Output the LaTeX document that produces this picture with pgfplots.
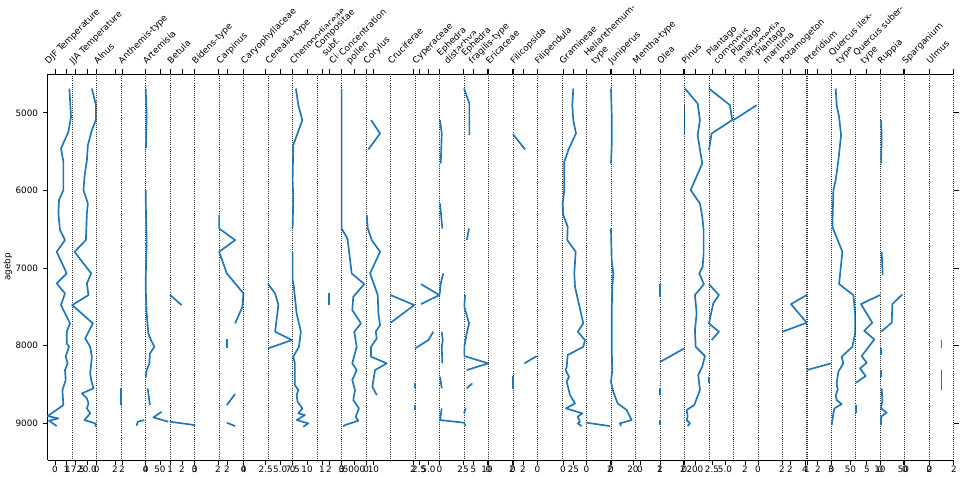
\documentclass[border=0pt]{standalone}
\usepackage{pgfplots}
\pgfplotsset{compat=1.18}
\usepackage{fontspec}
\setmainfont{DejaVu Sans}
\definecolor{mplblue}{RGB}{31,119,180}
\newcommand{\fs}{\fontsize{6.6}{7.7}\selectfont}
\pgfplotsset{
  panel/.style={
    at={(35.775pt+#1*18.3675pt,12pt)}, anchor=south west,
    scale only axis, width=18.3675pt, height=289.5pt,
    xmin=0, xmax=24.49, ymin=4500, ymax=9473, y dir=reverse,
    clip=false, separate axis lines,
    x axis line style={black, line width=0.6pt},
    y axis line style={black!80, line width=0.6pt, densely dotted},
    tick align=outside, major tick length=3.5pt,
    xtick pos=both, xticklabel pos=bottom,
    ytick=\empty,
    tick style={black, line width=0.6pt},
    ticklabel style={font=\fs, inner sep=0.6pt},
    every axis plot post/.append style={color=mplblue, line width=1.25pt, line join=round, mark=none, solid},
  },
}
\tikzset{
  ttl/.style={anchor=south west, outer sep=0pt, inner sep=1.5pt, fill=white,
    align=left, font=\fs, rotate=45},
}
\newcommand{\ttl}[2][0pt]{\node[ttl] at ([xshift=2.4pt+#1, yshift=3.75pt]rel axis cs:0,1) {#2\strut};}
\begin{document}
\begin{tikzpicture}
\path[use as bounding box] (0,0) rectangle (720pt,357pt);
% 0 DJF
\begin{axis}[panel=0, axis y line*=left, y axis line style={solid, black},
  ytick={5000,6000,7000,8000,9000}, yticklabels={5000,6000,7000,8000,9000},
  yticklabel style={xshift=-3pt},
  xtick={7.3,18.8}, xticklabels={0,1}]
\addplot coordinates {(21.7,4687)(23.3,5052)(20.7,5245)(13.3,5459)(15.7,5631)(15.7,5996)(11.3,6125)(10.7,6296)(12.3,6511)(17.3,6640)(9.0,6790)(19.0,7069)(9.0,7198)(17.3,7327)(13.3,7477)(22.3,7713)(19.0,7820)(19.0,7971)(21.3,8014)(18.0,8142)(20.0,8228)(17.3,8314)(18.0,8443)(14.7,8572)(15.7,8765)(0,8907)(10.7,8937)(1.3,8967)(9.0,9035)};
\ttl{DJF Temperature}
\end{axis}
% 1 JJA
\begin{axis}[panel=1, xtick={2.8,14.8}, xticklabels={17.5,20.0}]
\addplot coordinates {(19.7,4687)(23.7,4901)(23.7,5094)(19.7,5223)(15.7,5416)(14.7,5610)(12.3,5824)(11.3,5996)(15.7,6168)(14.7,6296)(13.7,6640)(2.3,6790)(19.0,7069)(14.7,7198)(16.3,7348)(0,7477)(20.7,7713)(13.0,7906)(18.0,8014)(19.7,8142)(18.0,8357)(19.0,8443)(21.3,8550)(9.7,8615)(14.7,8679)(16.3,8743)(14.7,8808)(18.0,8872)(12.3,8958)(23.0,9001)(23.7,9044)};
\ttl{JJA Temperature}
\end{axis}
% 2 Alnus
\begin{axis}[panel=2, xtick={0,18.3}, xticklabels={0,2}]
\ttl{Alnus}
\end{axis}
% 3 Anthemis
\begin{axis}[panel=3, xtick={0.8,24.49}, xticklabels={2,4}]
\addplot coordinates {(0,8550)(0,8765)};
\addplot coordinates {(15.5,9031)(16.5,8980)(23.1,8958)};
\ttl{Anthemis-type}
\end{axis}
% 4 Artemisia
\begin{axis}[panel=4, xtick={0,14.3}, xticklabels={0,50}]
\addplot coordinates {(0,4687)(1,5009)(0.3,5459)};
\addplot coordinates {(0,5996)(0.3,6296)(1,6640)(0.3,6983)(0,7241)(1,7584)(2.7,7842)(5.3,7928)(8.7,8014)(4.3,8100)(3.7,8228)(1,8314)(0.3,8400)};
\addplot coordinates {(2,8550)(4.3,8765)};
\addplot coordinates {(16,8851)(7.7,8924)(22.7,8980)};
\ttl{Artemisia}
\end{axis}
% 5 Betula
\begin{axis}[panel=5, xtick={0,11.8,24.4}, xticklabels={1,2,3}]
\addplot coordinates {(0,7348)(11.5,7477)};
\addplot coordinates {(0,8980)(24.8,9023)};
\ttl{Betula}
\end{axis}
% 6 Bidens
\begin{axis}[panel=6, xtick={0,23.4}, xticklabels={0,2}]
\ttl{Bidens-type}
\end{axis}
% 7 Carpinus
\begin{axis}[panel=7, xtick={7.9,24.49}, xticklabels={2,4}]
\addplot coordinates {(0,6318)(0,6490)(16,6640)(0,6790)(7.7,7069)(24.3,7327)(23.3,7499)(16,7713)};
\addplot coordinates {(7.7,7919)(7.7,8035)};
\addplot coordinates {(16,8623)(7.7,8765)};
\addplot coordinates {(7.7,8993)(16,9036)};
\ttl{Carpinus}
\end{axis}
% 8 Caryophyllaceae
\begin{axis}[panel=8, xtick={0,22}, xticklabels={0,2.5}]
\ttl{Caryophyllaceae}
\end{axis}
% 9 Cerealia
\begin{axis}[panel=9, xtick={12,24.49}, xticklabels={5.0,7.5}]
\addplot coordinates {(0,7207)(7,7327)(10.3,7477)(7,7820)(23.7,7928)(0,8035)};
\ttl{Cerealia-type}
\end{axis}
% 10 Chenopodiaceae
\begin{axis}[panel=10, xtick={0,14.4}, xticklabels={0,10}]
\addplot coordinates {(3.3,4687)(5.7,4901)(9.7,5094)(0.7,5416)(0,5867)(0.7,6082)(0,6490)};
\addplot coordinates {(0,6790)(0,7155)(1.3,7241)(2.3,7370)(4,7584)(8.3,7820)(6.3,8014)(0.7,8142)(2.3,8228)(2.3,8507)(5.7,8572)(4,8636)(5,8722)(9.7,8808)(5.7,8872)(12.3,8894)(4,8958)(15.7,9001)(10.7,9044)};
\ttl{Chenopodiaceae}
\end{axis}
% 11 Compositae
\begin{axis}[panel=11, xtick={4.9,11.9,24.49}, xticklabels={1,2,3}]
\addplot coordinates {(12,7327)(12,7477)};
\ttl[11pt]{Compositae\\subf.\\Cichorioideae}
\end{axis}
% 12 Concentration pollen
\begin{axis}[panel=12, xtick={0,12.4}, xticklabels={0,5000}]
\addplot coordinates {(0,4687)(0,5438)(0,6490)(5,6600)(6.1,6640)(10.1,7069)(22.7,7207)(11.7,7370)(10.7,7541)(19.4,7713)(12.7,7820)(15.1,8014)(10.7,8228)(15.1,8314)(10.7,8443)(13.4,8572)(11.7,8701)(17.4,8808)(14.1,8915)(16.7,8967)(3.4,9023)(1.5,9040)};
\ttl[5.5pt]{Concentration\\pollen}
\end{axis}
% 13 Corylus
\begin{axis}[panel=13, xtick={0,7.4}, xticklabels={0,10}]
\addplot coordinates {(5,5094)(14,5266)(2.3,5472)};
\addplot coordinates {(0.7,6318)(1.7,6490)(5.7,6640)(14,6790)(4,7069)(11.7,7348)(12.3,7584)(14,7734)(9.7,7820)(10.7,7906)(5,8014)(5,8142)(20.7,8228)(9,8314)(7.3,8443)(6.3,8529)(10.7,8636)};
\ttl{Corylus}
\end{axis}
% 14 Cruciferae
\begin{axis}[panel=14, xtick={22.4}, xticklabels={2}]
\addplot coordinates {(0,7348)(23.7,7477)(0,7705)};
\ttl{Cruciferae}
\end{axis}
% 15 Cyperaceae
\begin{axis}[panel=15, xtick={4,13.5}, xticklabels={2.5,5.0}]
\addplot coordinates {(6,7207)(24.3,7348)(6,7464)};
\addplot coordinates {(18.3,7820)(13.3,7928)(0,8035)};
\addplot coordinates {(0,8486)(0,8550)};
\addplot coordinates {(0,8765)(0,8830)};
\ttl{Cyperaceae}
\end{axis}
% 16 Ephedra distachya
\begin{axis}[panel=16, xtick={0,23.5}, xticklabels={0,25}]
\addplot coordinates {(0.5,5094)(2.2,5266)(1.2,5653)};
\addplot coordinates {(0.5,6168)(2.8,6490)};
\addplot coordinates {(3.8,7069)(1.2,7198)(0,7348)};
\addplot coordinates {(2.2,7820)(3.2,7928)(2.2,8014)(2.8,8228)};
\addplot coordinates {(0.5,8400)(2.2,8550)};
\addplot coordinates {(2.2,8808)(0.5,8958)(24.8,8993)};
\ttl[5.5pt]{Ephedra\\distachya}
\end{axis}
% 17 Ephedra fragilis
\begin{axis}[panel=17, xtick={9.5,23}, xticklabels={5,10}]
\addplot coordinates {(0,4687)(5.3,4880)(5.3,5288)};
\addplot coordinates {(5,6490)(2.7,6640)};
\addplot coordinates {(1,7348)(0.3,7499)(5,7713)(2.7,7842)(0.3,8014)(0.3,8134)(24.3,8228)(2.7,8314)};
\addplot coordinates {(8.3,8486)(2.7,8550)};
\addplot coordinates {(1.7,8808)(0,8872)};
\addplot coordinates {(0,9001)(1.7,9031)};
\ttl[5.5pt]{Ephedra\\fragilis-type}
\end{axis}
% 18 Ericaceae
\begin{axis}[panel=18, xtick={0,23.5}, xticklabels={0,2}]
\ttl{Ericaceae}
\end{axis}
% 19 Filicopsida
\begin{axis}[panel=19, xtick={0,10}, xticklabels={0,2}]
\addplot coordinates {(0,5275)(12,5472)};
\addplot coordinates {(0,8391)(0,8563)};
\addplot coordinates {(23.7,8134)(11.3,8228)};
\ttl{Filicopsida}
\end{axis}
% 20 Filipendula
\begin{axis}[panel=20, xtick={0}, xticklabels={0}]
\ttl{Filipendula}
\end{axis}
% 21 Gramineae
\begin{axis}[panel=21, xtick={1,11.5}, xticklabels={0,25}]
\addplot coordinates {(11.3,4687)(10.3,4901)(11.3,5094)(14,5266)(7,5459)(2.3,5631)(2.3,5996)(0.7,6168)(1.3,6318)(5.7,6468)(5.3,6640)(13.7,6790)(12.3,7069)(13,7241)(21.3,7713)(15.7,7820)(23,7928)(21.3,8014)(5.7,8121)(4.7,8271)(3.7,8314)(7,8400)(4.7,8465)(8,8636)(13,8743)(4,8808)(20.3,8872)(15.7,8915)(18,8980)(15.7,9001)(19.7,9036)};
\ttl{Gramineae}
\end{axis}
% 22 Helianthemum
\begin{axis}[panel=22, xtick={0,23.5}, xticklabels={0,2}]
\addplot coordinates {(0.2,8993)(23.5,9036)};
\ttl[5.5pt]{Helianthemum-\\type}
\end{axis}
% 23 Juniperus
\begin{axis}[panel=23, xtick={0,22}, xticklabels={0,20}]
\addplot coordinates {(0,4687)(0.7,5009)(0.7,5438)(0,5653)};
\addplot coordinates {(0,6490)(0.7,6897)(2.3,7069)(1.3,7241)(0.7,7584)(0.7,8014)(1.3,8314)(0,8465)(2.3,8593)(6.7,8743)(15.7,8829)(20.7,8958)(9,9001)(10,9036)};
\ttl{Juniperus}
\end{axis}
% 24 Mentha
\begin{axis}[panel=24, xtick={4.5,24.49}, xticklabels={0,2}]
\ttl{Mentha-type}
\end{axis}
% 25 Olea
\begin{axis}[panel=25, xtick={0,23}, xticklabels={1,2}]
\addplot coordinates {(0,7207)(0,7370)};
\addplot coordinates {(0,8211)(24.3,8035)};
\addplot coordinates {(0,8550)(0,8636)};
\addplot coordinates {(0,8958)(0,9023)};
\addplot coordinates {(24.5,4901)(24.5,5288)};
\ttl{Olea}
\end{axis}
% 26 Pinus
\begin{axis}[panel=26, xtick={0,10.5}, xticklabels={0,200}]
\addplot coordinates {(0.5,4687)(13.2,4880)(15.5,5094)(13.2,5288)(17.8,5653)(6.2,5996)(15.5,6168)(17.8,6339)(19.2,6511)(19.2,6812)(18.2,6983)(14.8,7069)(19.5,7207)(10.5,7348)(12.2,7584)(10.5,7799)(11.2,8014)(20.5,8134)(17.8,8271)(13.8,8378)(15.5,8572)(9.8,8765)(2.2,8829)(3.2,8915)(2.2,8958)(5.5,9001)(3.2,9036)};
\ttl{Pinus}
\end{axis}
% 27 Plantago coronopus
\begin{axis}[panel=27, xtick={3,16}, xticklabels={2.5,5.0}]
\addplot coordinates {(0,4687)(21,4901)(23.3,5094)(2.7,5266)(0,5481)};
\addplot coordinates {(0,7207)(10,7348)(4.3,7455)(0,7713)(10,7820)(2.7,7928)};
\addplot coordinates {(0,8400)(0,8486)};
\ttl[5.5pt]{Plantago\\coronopus}
\end{axis}
% 28 Plantago major-media
\begin{axis}[panel=28, xtick={11.6}, xticklabels={2}]
\addplot coordinates {(23.3,4901)(0,5094)};
\ttl[5.5pt]{Plantago\\major-media}
\end{axis}
% 29 Plantago maritima
\begin{axis}[panel=29, xtick={0,24.1}, xticklabels={0,2}]
\ttl[5.5pt]{Plantago\\maritima}
\end{axis}
% 30 Potamogeton
\begin{axis}[panel=30, xtick={7.6,22.6}, xticklabels={2,4}]
\addplot coordinates {(24.3,7348)(8.6,7464)(24.3,7705)(0,7821)};
\ttl{Potamogeton}
\end{axis}
% 31 Pteridium
\begin{axis}[panel=31, xtick={0,11,24.1}, xticklabels={1,2,3}]
\addplot coordinates {(0,8314)(24.1,8228)};
\ttl{Pteridium}
\end{axis}
% 32 Quercus ilex
\begin{axis}[panel=32, xtick={0,19}, xticklabels={0,50}]
\addplot coordinates {(4.3,4687)(5.3,4901)(7.7,5052)(9.7,5288)(7,5610)(4.3,5867)(2,5996)(1,6468)(6.3,6640)(11,6790)(7.7,7207)(22,7348)(23.7,7584)(23.7,7842)(21,8014)(10.3,8142)(12,8228)(7,8335)(5.3,8486)(6.3,8572)(4.3,8636)(5.3,8701)(10.3,8752)(3,8808)(2,8872)(1,8958)(0.3,9023)};
\ttl[5.5pt]{Quercus ilex-\\type}
\end{axis}
% 33 Quercus suber
\begin{axis}[panel=33, xtick={11,24.1}, xticklabels={5,10}]
\addplot coordinates {(24.1,7348)(5.1,7464)(16.4,7705)(8.4,7808)(18.4,7919)(5.8,8134)(10.8,8220)(4.1,8293)(9.8,8391)(0.1,8477)};
\addplot coordinates {(0,8765)(0,8872)};
\ttl[5.5pt]{Quercus suber-\\type}
\end{axis}
% 34 Ruppia
\begin{axis}[panel=34, xtick={0,23}, xticklabels={0,50}]
\addplot coordinates {(0.7,5094)(1.3,5296)(0.7,5653)};
\addplot coordinates {(1.3,6790)(2.3,7090)};
\addplot coordinates {(22,7339)(12,7464)(11.3,7705)(0.7,7820)};
\addplot coordinates {(0.7,8035)(0.7,8121)};
\addplot coordinates {(0.7,8314)(0.7,8400)};
\addplot coordinates {(1.3,8550)(2,8701)(0.7,8808)(6.3,8863)(0.7,8915)(0.7,9023)};
\ttl{Ruppia}
\end{axis}
% 35 Sparganium
\begin{axis}[panel=35, xtick={0,24.49}, xticklabels={0,2}]
\ttl{Sparganium}
\end{axis}
% 36 Ulmus
\begin{axis}[panel=36, xtick={0,24.49}, xticklabels={0,2},
  ytick={5000,6000,7000,8000,9000}, yticklabels={,,,,}, ytick pos=right]
\addplot coordinates {(12.3,7928)(12.3,8035)};
\addplot coordinates {(12.3,8314)(12.3,8572)};
\ttl{Ulmus}
\end{axis}
\node[rotate=90, font=\fs] at (6pt,156.75pt) {agebp};
\end{tikzpicture}
\end{document}
